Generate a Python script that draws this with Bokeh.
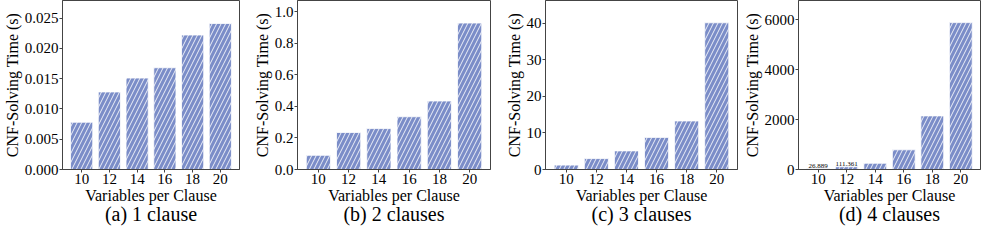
from bokeh.plotting import figure
from bokeh.layouts import row
from bokeh.models import (Range1d, FixedTicker, NumeralTickFormatter, LinearAxis, ColumnDataSource)
from bokeh.embed import file_html
from bokeh.resources import INLINE
from bokeh.core.properties import value

variables = ["10", "12", "14", "16", "18", "20"]
time_1_clause = [0.0078, 0.0128, 0.0151, 0.0168, 0.0222, 0.0241]
time_2_clauses = [0.090, 0.235, 0.260, 0.335, 0.435, 0.930]
time_3_clauses = [1.2, 3.0, 5.1, 8.8, 13.3, 40.2]
time_4_clauses = [26.889, 111.361, 250.0, 790.0, 2150.0, 5890.0]
captions = ["(a) 1 clause", "(b) 2 clauses", "(c) 3 clauses", "(d) 4 clauses"]
y_max = [0.0279, 1.073, 46.3, 6777.0]
yticks_a = [0.0, 0.005, 0.010, 0.015, 0.020, 0.025]
yticks_b = [0.0, 0.2, 0.4, 0.6, 0.8, 1.0]
yticks_c = [0, 10, 20, 30, 40]
yticks_d = [0, 2000, 4000, 6000]
ytick_formats = ["0.000", "0.0", "0", "0"]
annot_index_d = [0, 1]
annot_vals_d = [26.889, 111.361]
annot_text_d = ["26.889", "111.361"]

FONT = "Liberation Serif"
BAR = "#7B8DC8"
SPINE = "#444444"

xpos = list(range(len(variables)))
series = [time_1_clause, time_2_clauses, time_3_clauses, time_4_clauses]
ticks = [yticks_a, yticks_b, yticks_c, yticks_d]
widths = [242, 250, 248, 241]
lefts = [52, 55, 53, 53]
rights = [3, 2, 3, 1]

figs = []
for i in range(4):
    p = figure(width=widths[i], height=227,
               x_range=Range1d(-0.69, len(variables) - 1 + 0.69),
               y_range=Range1d(0, y_max[i]),
               output_backend="svg", toolbar_location=None,
               min_border_left=lefts[i], min_border_right=rights[i],
               min_border_top=0, min_border_bottom=0)
    src = ColumnDataSource(dict(x=xpos, top=series[i]))
    p.vbar(x="x", top="top", width=0.8, source=src, fill_color=BAR, line_color="white",
           line_width=0.8, hatch_pattern="/", hatch_color="white", hatch_scale=9,
           hatch_weight=1, hatch_alpha=0.85)
    if i == 3:
        asrc = ColumnDataSource(dict(x=annot_index_d, y=annot_vals_d, t=annot_text_d))
        p.text(x="x", y="y", text="t", source=asrc, text_font=value(FONT),
               text_font_size="7px", text_align="center", text_baseline="bottom",
               y_offset=-1, text_color="black")
    p.xgrid.visible = False
    p.ygrid.visible = False
    p.outline_line_color = SPINE
    p.outline_line_width = 1
    p.xaxis.ticker = FixedTicker(ticks=xpos)
    p.xaxis.major_label_overrides = {k: v for k, v in zip(xpos, variables)}
    p.yaxis.ticker = FixedTicker(ticks=ticks[i])
    p.yaxis.formatter = NumeralTickFormatter(format=ytick_formats[i])
    for ax in (p.xaxis[0], p.yaxis[0]):
        ax.axis_line_color = SPINE
        ax.major_tick_line_color = SPINE
        ax.major_tick_out = 3
        ax.major_tick_in = 0
        ax.minor_tick_line_color = None
        ax.major_label_text_font = FONT
        ax.major_label_text_font_size = "15px"
        ax.major_label_text_color = "black"
        ax.axis_label_text_font = FONT
        ax.axis_label_text_font_size = "16px"
        ax.axis_label_text_font_style = "normal"
        ax.axis_label_text_color = "black"
        ax.major_label_standoff = 1
        ax.axis_label_standoff = 1
    p.xaxis.axis_label_standoff = 0
    p.xaxis.axis_label = "Variables per Clause"
    p.yaxis.axis_label = "CNF-Solving Time (s)"
    # caption below the axis title, as the label of an empty extra axis
    cap = LinearAxis(ticker=FixedTicker(ticks=[]), axis_label=captions[i],
                     axis_line_color=None, major_tick_line_color=None, minor_tick_line_color=None,
                     major_tick_out=0, major_tick_in=0, major_label_standoff=0,
                     axis_label_standoff=-4, axis_label_text_font=FONT,
                     axis_label_text_font_size="20px", axis_label_text_font_style="normal",
                     axis_label_text_color="black")
    p.add_layout(cap, "below")
    figs.append(p)

layout = row(*figs, spacing=0)
open("out.html", "w").write(file_html(layout, INLINE))
